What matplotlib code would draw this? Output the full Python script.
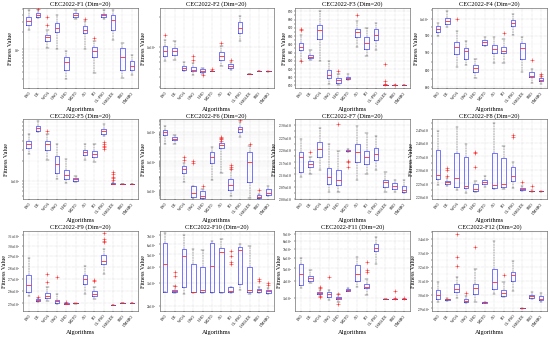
import matplotlib
matplotlib.use("Agg")
import matplotlib.pyplot as plt
from matplotlib.ticker import AutoMinorLocator, NullFormatter, FixedLocator

plt.rcParams['font.family'] = ['Liberation Serif', 'DejaVu Serif']
plt.rcParams['mathtext.fontset'] = 'stix'

algorithms = ['PSO', 'DE', 'WOA', 'GWO', 'HHO', 'MGTO', 'AO', 'PO', 'CL-PSO', 'LSHADE', 'SBO', 'DMSBO']

# each row: [whisker low, q1, median, q3, whisker high]
f1_stats = [[2.19e4, 2.69e4, 3.09e4, 3.63e4, 4.9e4], [3.47e4, 3.63e4, 3.98e4, 4.27e4, 4.9e4],
            [1.05e4, 1.41e4, 1.62e4, 1.78e4, 2.19e4], [1.0e4, 2.0e4, 2.34e4, 2.82e4, 3.98e4],
            [2950, 4370, 6030, 7240, 9120], [3.4e4, 3.63e4, 3.98e4, 4.27e4, 4.9e4],
            [1.0e4, 1.9e4, 2.14e4, 2.51e4, 3.16e4], [3800, 7410, 9120, 1.1e4, 1.38e4],
            [3.4e4, 3.63e4, 3.9e4, 4.17e4, 4.8e4], [1.45e4, 2.14e4, 3.3e4, 3.98e4, 4.9e4],
            [3090, 4270, 7240, 1.05e4, 1.29e4], [3550, 4270, 5010, 6310, 7940]]
f1_fliers = [[], [5.1e4], [3.7e4, 2.7e4], [], [], [], [3.4e4], [1.55e4], [], [], [], []]

f2_stats = [[724, 813, 912, 1023, 1175], [741, 832, 912, 977, 1148],
            [575, 589, 617, 646, 708], [525, 575, 589, 631, 692],
            [537, 562, 575, 603, 617], [570, 572, 575, 578, 580],
            [646, 741, 813, 891, 1023], [589, 617, 646, 676, 708],
            [1148, 1380, 1549, 1778, 2042], [535, 536, 537, 539, 540],
            [570, 572, 575, 578, 580], [568, 571, 575, 578, 580]]
f2_fliers = [[1318], [], [], [813, 741], [525], [603], [1096], [741], [], [], [], []]

f3_stats = [[630.3, 642.8, 646.9, 651.7, 661.8], [631.5, 633.0, 634.8, 637.6, 643.6],
            [630.3, 656.5, 667.0, 673.9, 690.0], [602.0, 608.5, 612.2, 619.4, 629.5],
            [600.5, 603.3, 606.5, 608.5, 613.4], [606.1, 608.1, 609.4, 610.6, 613.4],
            [646.9, 659.0, 664.6, 668.6, 677.9], [635.6, 644.4, 651.7, 658.5, 669.8],
            [643.6, 655.7, 661.8, 668.6, 675.9], [600.0, 600.1, 600.2, 600.4, 600.6],
            [600.0, 600.05, 600.1, 600.15, 600.2], [600.0, 600.05, 600.1, 600.15, 600.2]]
f3_fliers = [[668.6, 667.0, 629.5], [], [], [], [617.4], [], [686.0], [], [],
             [605.3, 601.3, 625.5], [600.6], []]

f4_stats = [[948.6, 961.9, 971.4, 979.0, 988.6], [977.0, 983.8, 993.3, 1002.9, 1021.9],
            [860.0, 898.0, 917.0, 933.3, 964.8], [864.8, 881.9, 904.8, 914.3, 936.2],
            [826.7, 843.8, 855.2, 864.8, 883.8], [920.0, 923.8, 931.4, 939.0, 945.7],
            [869.5, 901.0, 912.4, 921.9, 945.7], [869.5, 899.0, 904.8, 917.1, 941.0],
            [952.4, 979.0, 988.6, 996.2, 1012.4], [845.7, 883.8, 914.3, 929.5, 945.7],
            [812.4, 828.6, 834.3, 843.8, 853.3], [809.5, 819.0, 822.0, 826.7, 836.2]]
f4_fliers = [[], [], [1000.0], [], [], [], [], [958.0], [], [], [879.0], [838.0, 834.0]]

f5_stats = [[2600, 3200, 3670, 4120, 5190], [5500, 5820, 6380, 6920, 8220],
            [2070, 2990, 3670, 4030, 5190], [1060, 1330, 1840, 2370, 3670],
            [923, 1060, 1230, 1500, 2190], [977, 1010, 1060, 1120, 1200],
            [2110, 2450, 2750, 2990, 3670], [1950, 2320, 2540, 2850, 3670],
            [4900, 5190, 5690, 6170, 7330], [900, 902, 905, 930, 960],
            [899, 900, 900, 901, 902], [899, 900, 900, 901, 902]]
f5_fliers = [[], [], [5820], [], [], [], [], [], [3890, 3670, 3470, 3270, 3090],
             [1035, 1100, 1160, 1300, 1380], [], []]

f6_stats = [[1.66e7, 6.9e7, 1.0e8, 1.5e8, 2.75e8], [1.66e7, 2.75e7, 3.6e7, 4.7e7, 6.9e7],
            [3.6e4, 1.5e5, 2.75e5, 4.7e5, 7.8e5], [2750, 3600, 6900, 1.9e4, 2.1e4],
            [2750, 3100, 4200, 9100, 1.3e4], [5.4e4, 7.8e5, 2.1e6, 4.7e6, 9.1e6],
            [1.66e5, 7.8e6, 1.3e7, 1.9e7, 3.6e7], [4200, 1.0e4, 2.4e4, 6.6e4, 2.75e5],
            [5.1e7, 1.1e8, 1.66e8, 2.4e8, 4.7e8], [3100, 4.0e4, 8.5e5, 4.7e6, 1.1e7],
            [2750, 2800, 3600, 5100, 6000], [4200, 5100, 6900, 1.3e4, 2.1e4]]
f6_fliers = [[], [], [2.0e6, 1.3e6], [1.0e6, 7.8e5], [1.95e4], [],
             [4.7e7, 4.0e7, 3.2e7, 2.5e7], [6.0e5, 4.2e5, 3.1e5], [7.0e8], [1.66e7], [1.0e4], []]

f7_stats = [[2090, 2110, 2170, 2190, 2243], [2103, 2132, 2143, 2154, 2170],
            [2116, 2170, 2203, 2233, 2289], [2030, 2060, 2090, 2127, 2223],
            [2030, 2057, 2077, 2116, 2196], [2190, 2194, 2196, 2200, 2203],
            [2077, 2150, 2190, 2223, 2296], [2103, 2143, 2170, 2196, 2269],
            [2119, 2159, 2183, 2207, 2256], [2030, 2050, 2070, 2079, 2110],
            [2030, 2043, 2053, 2066, 2077], [2023, 2030, 2037, 2053, 2079]]
f7_fliers = [[], [2190], [], [], [2305], [2156, 2150, 2132], [], [], [], [], [], []]

f8_stats = [[2241, 2265, 2281, 2374, 2444], [2239, 2245, 2253, 2259, 2269],
            [2224, 2236, 2269, 2362, 2457], [2212, 2233, 2239, 2348, 2396],
            [2215, 2221, 2227, 2245, 2257], [2236, 2245, 2253, 2263, 2275],
            [2227, 2233, 2241, 2362, 2475], [2227, 2236, 2248, 2342, 2386],
            [2233, 2257, 2275, 2309, 2329], [2221, 2224, 2229, 2233, 2239],
            [2218, 2219, 2220, 2222, 2224], [2218, 2219, 2220, 2221, 2222]]
f8_fliers = [[], [2305, 2299, 2275], [], [], [2366, 2360, 2311], [], [], [],
             [2430, 2420], [2253], [2239], []]

f9_stats = [[2555, 2592, 2643, 2734, 2886], [2508, 2516, 2521, 2529, 2539],
            [2513, 2539, 2555, 2582, 2629], [2495, 2500, 2513, 2526, 2574],
            [2493, 2494, 2495, 2496, 2497], [2495, 2496, 2497, 2499, 2500],
            [2574, 2657, 2694, 2729, 2814], [2534, 2555, 2574, 2600, 2629],
            [2743, 2828, 2857, 2916, 2967], [2480, 2481, 2481, 2482, 2482],
            [2496, 2497, 2497, 2498, 2498], [2496, 2497, 2497, 2498, 2498]]
f9_fliers = [[], [2547], [2671, 2743], [2714], [2508], [], [], [2677, 2686],
             [3060, 3043, 3033, 3120], [], [], []]

f10_stats = [[2570, 2570, 4220, 6170, 7340], [2540, 2570, 2610, 2680, 2850],
             [2490, 2800, 4880, 5480, 7000], [2540, 2550, 2560, 4220, 5480],
             [2540, 2570, 2650, 4000, 5420], [2540, 2570, 4060, 6170, 6340],
             [2540, 2570, 5240, 5650, 6610], [2540, 2570, 2600, 2800, 2830],
             [2650, 2970, 5420, 5740, 5980], [2490, 2570, 2650, 4000, 5810],
             [2540, 2570, 2650, 2720, 2800], [2490, 2540, 2600, 2650, 2750]]
f10_fliers = [[], [3440, 3650, 2880], [], [], [], [], [], [5300, 4880, 4370, 4220], [], [],
              [3250, 3100], [3000, 2920]]

f11_stats = [[3530, 3730, 4510, 5360, 5980], [3870, 4040, 4200, 4340, 4810],
             [3120, 3200, 3260, 3310, 3440], [2890, 3050, 3220, 3310, 3440],
             [2770, 2920, 2990, 3050, 3220], [3350, 3370, 3440, 3500, 3570],
             [3630, 4040, 4560, 5300, 6080], [3170, 3530, 3630, 3830, 4150],
             [5360, 6770, 7150, 7560, 8640], [2940, 2945, 2950, 2952, 2955],
             [2940, 2945, 2950, 2952, 2955], [2940, 2945, 2950, 2952, 2955]]
f11_fliers = [[], [], [3530, 3630, 3100, 3050], [4320], [2690, 3220], [], [],
              [4810, 4650, 5600], [], [], [3000, 3350], [3000]]

f12_stats = [[2948, 2967, 2995, 3031, 3090], [2957, 2962, 2967, 2971, 2976],
             [2976, 3019, 3043, 3074, 3126], [2936, 2948, 2957, 2967, 2990],
             [2948, 3007, 3048, 3079, 3186], [2941, 2942, 2943, 2944, 2945],
             [3007, 3043, 3090, 3186, 3388], [2983, 2990, 3014, 3031, 3090],
             [3024, 3102, 3143, 3167, 3245], [2899, 2900, 2900, 2901, 2901],
             [2967, 2976, 2990, 3000, 3019], [2948, 2960, 2971, 2990, 3014]]
f12_fliers = [[], [], [3436, 3269, 3209], [3012], [3347], [], [], [3143], [], [], [], []]

panel_stats = [f1_stats, f2_stats, f3_stats, f4_stats, f5_stats, f6_stats,
               f7_stats, f8_stats, f9_stats, f10_stats, f11_stats, f12_stats]
panel_fliers = [f1_fliers, f2_fliers, f3_fliers, f4_fliers, f5_fliers, f6_fliers,
                f7_fliers, f8_fliers, f9_fliers, f10_fliers, f11_fliers, f12_fliers]


def sci(v, d):
    m = v / 1000
    return r'$%s{\times}10^{3}$' % (('%.' + str(d) + 'f') % m)


# y axis setup: scale, limits, ticks, labels
y_setup = [
    ('log', (2090, 52500), [1e4], [r'$10^{4}$']),
    ('log', (389, 2455), [1e3], [r'$1{\times}10^{3}$']),
    ('linear', (597, 694), list(range(600, 700, 10)), [str(v) for v in range(600, 700, 10)]),
    ('linear', (798, 1031), [800, 850, 900, 950, 1000], ['800', '850', '900', '950', r'$1{\times}10^{3}$']),
    ('log', (531, 8700), [1e3], [r'$1{\times}10^{3}$']),
    ('log', (2500, 7.8e8), [1e4, 1e6, 1e8], [r'$1{\times}10^{4}$', r'$1{\times}10^{6}$', r'$1{\times}10^{8}$']),
    ('linear', (2000, 2323), list(range(2000, 2301, 50)), [sci(v, 2) for v in range(2000, 2301, 50)]),
    ('linear', (2190, 2487), list(range(2200, 2451, 50)), [sci(v, 2) for v in range(2200, 2451, 50)]),
    ('log', (2436, 3142), list(range(2500, 3101, 100)), [sci(v, 1) for v in range(2500, 3101, 100)]),
    ('log', (1833, 7550), list(range(2000, 7001, 1000)), [sci(v, 0) for v in range(2000, 7001, 1000)]),
    ('log', (2380, 9500), list(range(3000, 9001, 1000)), [sci(v, 0) for v in range(3000, 9001, 1000)]),
    ('linear', (2881, 3459), list(range(2900, 3401, 100)), [sci(v, 1) for v in range(2900, 3401, 100)]),
]

fig = plt.figure(figsize=(5.5, 3.37), dpi=100)
lefts = [0.042, 0.290, 0.537, 0.786]
bottoms = [0.739, 0.409, 0.077]
w, h = 0.208, 0.237

for i in range(12):
    r, c = divmod(i, 4)
    ax = fig.add_axes([lefts[c], bottoms[r], w, h])
    stats = []
    for k, s in enumerate(panel_stats[i]):
        stats.append(dict(whislo=s[0], q1=s[1], med=s[2], q3=s[3], whishi=s[4],
                          fliers=panel_fliers[i][k]))
    ax.bxp(stats, positions=range(1, 13), widths=0.5, showfliers=True,
           boxprops=dict(color='#3f3fff', linewidth=0.5),
           medianprops=dict(color='#ff2a2a', linewidth=0.6),
           whiskerprops=dict(color='0.35', linewidth=0.35, linestyle='--'),
           capprops=dict(color='0.2', linewidth=0.35),
           flierprops=dict(marker='+', markeredgecolor='#ff3030', markersize=2.2,
                           markeredgewidth=0.4, linestyle='none'))
    scale, lim, ticks, labels = y_setup[i]
    ax.set_yscale(scale)
    ax.set_ylim(lim)
    ax.yaxis.set_major_locator(FixedLocator(ticks))
    ax.set_yticklabels(labels)
    if scale == 'log':
        ax.yaxis.set_minor_formatter(NullFormatter())
    else:
        ax.yaxis.set_minor_locator(AutoMinorLocator(2))
    ax.set_xlim(0.4, 12.6)
    ax.set_xticks(range(1, 13))
    ax.set_xticklabels(algorithms, rotation=50, fontsize=2.9, ha='right', rotation_mode='anchor')
    ax.tick_params(axis='y', labelsize=2.5, which='both', length=1.0, width=0.3, pad=0.8)
    ax.tick_params(axis='x', length=1.0, width=0.3, pad=1)
    ax.grid(True, which='major', linestyle=':', linewidth=0.35, color='0.75')
    ax.grid(True, which='minor', linestyle=':', linewidth=0.25, color='0.85')
    for sp in ax.spines.values():
        sp.set_linewidth(0.4)
        sp.set_color('0.3')
    ax.set_title('CEC2022-F%d (Dim=20)' % (i + 1), fontsize=4.6, pad=1.5)
    ax.set_xlabel('Algorithms', fontsize=4.6, labelpad=1)
    ax.set_ylabel('Fitness Value', fontsize=4.4, labelpad=0.5)

fig.savefig('out.png', dpi=100)
